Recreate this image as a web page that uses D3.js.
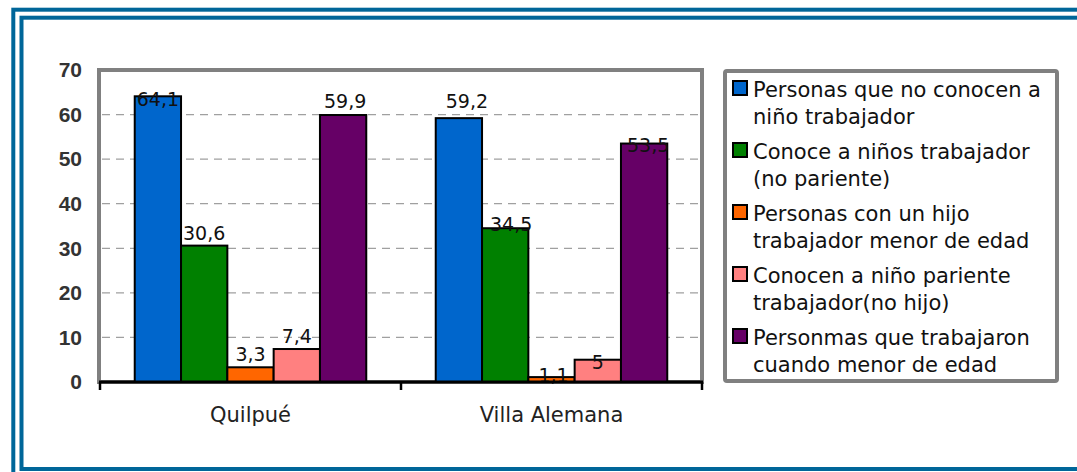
<!DOCTYPE html>
<html>
<head>
<meta charset="utf-8">
<script src="https://cdn.jsdelivr.net/npm/d3@7"></script>
<style>
  html, body { margin: 0; padding: 0; background: #fff; }
  svg { display: block; }
</style>
</head>
<body>
<svg id="chart" width="1077" height="472"></svg>
<script>
// Grouped bar chart: child labour awareness in two communes (percent)
const categories = ["Quilpué", "Villa Alemana"];
const seriesNames = [
  ["Personas que no conocen a", "niño trabajador"],
  ["Conoce a niños trabajador", "(no pariente)"],
  ["Personas con un hijo", "trabajador menor de edad"],
  ["Conocen a niño pariente", "trabajador(no hijo)"],
  ["Personmas que trabajaron", "cuando menor de edad"]
];
const seriesColors = ["#0066CC", "#008000", "#FF6600", "#FF8080", "#660066"];
const quilpueValues = [64.1, 30.6, 3.3, 7.4, 59.9];
const villaAlemanaValues = [59.2, 34.5, 1.1, 5, 53.5];
const yTicks = [0, 10, 20, 30, 40, 50, 60, 70];

const valuesByCategory = [quilpueValues, villaAlemanaValues];

// hand-placed data labels in the second group: [dx, dy] from the default spot
const labelNudge = [
  [[0, 0], [0, 0], [0, 0], [0, 0], [2, -1]],
  [[8, -4], [6, 9], [2, 11], [0, 15], [4, 14]]
];

const svg = d3.select("#chart");
const frameBlue = "#006699";
const plotGrey = "#808080";

// double frame around the whole chart
svg.append("rect").attr("x", 13.3).attr("y", 9.7).attr("width", 1200).attr("height", 600)
  .attr("fill", "none").attr("stroke", frameBlue).attr("stroke-width", 4);
svg.append("rect").attr("x", 21.5).attr("y", 17.7).attr("width", 1200).attr("height", 451.3)
  .attr("fill", "none").attr("stroke", frameBlue).attr("stroke-width", 4);

const plot = { left: 100, right: 702, top: 70, bottom: 382 };

const x = d3.scaleBand().domain(categories).range([plot.left, plot.right]).paddingInner(0).paddingOuter(0);
const xs = d3.scaleBand().domain(d3.range(seriesNames.length)).range([0, x.bandwidth()])
  .paddingInner(0).paddingOuter(0.75);
const y = d3.scaleLinear().domain([0, 70]).range([plot.bottom, plot.top]);

// plot area
svg.append("rect").attr("x", plot.left - 1).attr("y", plot.top).attr("width", plot.right - plot.left + 1)
  .attr("height", plot.bottom - plot.top).attr("fill", "#fff").attr("stroke", plotGrey).attr("stroke-width", 4);

// dashed gridlines
svg.append("g").selectAll("line").data(yTicks.filter(t => t > 0 && t < 70)).join("line")
  .attr("x1", plot.left + 2).attr("x2", plot.right - 2)
  .attr("y1", d => y(d)).attr("y2", d => y(d))
  .attr("stroke", "#a0a0a0").attr("stroke-width", 1.3).attr("stroke-dasharray", "8,6");

// y axis labels
const yAxis = d3.axisLeft(y).tickValues(yTicks).tickSize(0).tickPadding(0);
const gy = svg.append("g").attr("transform", `translate(82,0)`).call(yAxis);
gy.select(".domain").remove();
gy.selectAll("text").attr("font-family", "'Liberation Sans', Arial, sans-serif")
  .attr("font-weight", "bold").attr("font-size", 21).attr("fill", "#333");

// bars
const groups = svg.append("g").selectAll("g").data(categories).join("g")
  .attr("transform", d => `translate(${x(d)},0)`);

groups.selectAll("rect").data((c, ci) => valuesByCategory[ci].map((v, si) => ({ v, si })))
  .join("rect")
  .attr("x", d => xs(d.si)).attr("width", xs.bandwidth())
  .attr("y", d => y(d.v)).attr("height", d => y(0) - y(d.v))
  .attr("fill", d => seriesColors[d.si]).attr("stroke", "#000").attr("stroke-width", 2);

// baseline axis with category ticks
const xAxis = d3.axisBottom(x).tickSize(0).tickPadding(0);
svg.append("line").attr("x1", plot.left - 1).attr("x2", plot.right + 1)
  .attr("y1", plot.bottom).attr("y2", plot.bottom).attr("stroke", "#000").attr("stroke-width", 3);
svg.append("g").selectAll("line").data([plot.left, x(categories[1]), plot.right]).join("line")
  .attr("x1", d => d).attr("x2", d => d).attr("y1", plot.bottom).attr("y2", plot.bottom + 8)
  .attr("stroke", "#000").attr("stroke-width", 2.5);

const gx = svg.append("g").attr("transform", `translate(0,${plot.bottom + 40})`).call(xAxis);
gx.select(".domain").remove();
gx.selectAll("text").attr("dy", 0).attr("font-family", "'DejaVu Sans', sans-serif")
  .attr("font-size", 21).attr("fill", "#222");

// value labels
groups.each(function (c, ci) {
  d3.select(this).selectAll("text").data(valuesByCategory[ci].map((v, si) => ({ v, si })))
    .join("text")
    .attr("x", d => xs(d.si) + xs.bandwidth() / 2 + labelNudge[ci][d.si][0])
    .attr("y", d => Math.max(y(d.v) - 6, plot.top + 36) + labelNudge[ci][d.si][1])
    .attr("text-anchor", "middle")
    .attr("font-family", "'DejaVu Sans', sans-serif").attr("font-size", 19).attr("fill", "#111")
    .text(d => String(d.v).replace(".", ","));
});

// legend
const legend = { x: 725, y: 71, w: 332, h: 310 };
svg.append("rect").attr("x", legend.x).attr("y", legend.y).attr("width", legend.w).attr("height", legend.h)
  .attr("rx", 2).attr("fill", "#fff").attr("stroke", plotGrey).attr("stroke-width", 4);

const items = svg.append("g").selectAll("g").data(seriesNames).join("g")
  .attr("transform", (d, i) => `translate(0,${97 + i * 62})`);
items.append("rect").attr("x", 733).attr("y", -16).attr("width", 14).attr("height", 14)
  .attr("fill", (d, i) => seriesColors[i]).attr("stroke", "#000").attr("stroke-width", 2);
items.append("text").attr("x", 753).attr("y", 0)
  .attr("font-family", "'DejaVu Sans', sans-serif").attr("font-size", 21).attr("fill", "#111")
  .selectAll("tspan").data(d => d).join("tspan")
  .attr("x", 753).attr("dy", (d, i) => i === 0 ? 0 : 26.5).text(d => d);
</script>
</body>
</html>
